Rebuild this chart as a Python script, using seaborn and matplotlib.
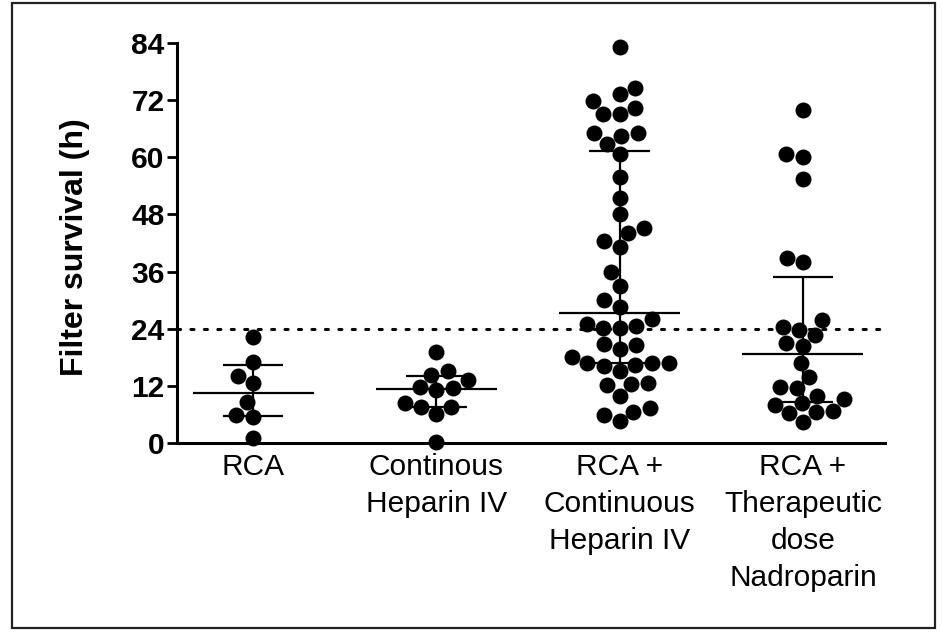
import numpy as np
import pandas as pd
import matplotlib
matplotlib.use('Agg')
import matplotlib.pyplot as plt
from matplotlib.patches import Rectangle
import seaborn as sns

# ── Data (filter survival in hours) ────────────────────────────────────────────
GROUPS = ['RCA', 'Continous\nHeparin IV', 'RCA +\nContinuous\nHeparin IV',
          'RCA +\nTherapeutic\ndose\nNadroparin']

rca = [22.3, 17.0, 14.1, 12.6, 8.6, 5.8, 5.5, 1.0]

heparin = [19.1, 15.1, 14.3, 13.2, 11.8, 11.6, 11.1, 8.4, 7.6, 7.6, 6.1, 0.2]

rca_heparin = [83.2, 74.6, 73.3, 71.8, 70.4, 69.1, 69.1, 65.1, 65.1, 64.5,
               62.8, 60.7, 55.9, 51.5, 48.1, 45.2, 44.1, 42.4, 41.2, 35.9,
               33.0, 30.0, 28.6, 26.0, 25.0, 24.6, 24.2, 24.2, 20.8, 20.6,
               19.7, 18.1, 16.8, 16.8, 16.8, 16.4, 16.2, 15.1, 12.6, 12.4,
               12.2, 9.9, 7.4, 6.5, 5.9, 4.6]

rca_nadroparin = [70.0, 60.7, 60.1, 55.5, 38.9, 38.0, 25.8, 24.4, 23.7, 22.7,
                  21.0, 20.4, 16.8, 13.9, 11.8, 11.6, 9.9, 9.2, 8.4, 8.0,
                  6.7, 6.5, 6.3, 4.4]

THRESHOLD = 24
Y_TICKS = [0, 12, 24, 36, 48, 60, 72, 84]

all_values = [rca, heparin, rca_heparin, rca_nadroparin]
df = pd.DataFrame({
    'group': np.repeat(GROUPS, [len(v) for v in all_values]),
    'hours': np.concatenate(all_values),
})

# ── Style ──────────────────────────────────────────────────────────────────────
sns.set_theme(style='ticks')
plt.rcParams['font.family'] = ['Liberation Sans', 'DejaVu Sans']
plt.rcParams['text.color'] = 'black'
plt.rcParams['axes.labelcolor'] = 'black'
plt.rcParams['xtick.color'] = 'black'
plt.rcParams['ytick.color'] = 'black'

fig = plt.figure(figsize=(9.42, 6.34), dpi=100)
ax = fig.add_axes([0.1879, 0.3013, 0.7516, 0.6309])

sns.swarmplot(data=df, x='group', y='hours', order=GROUPS, color='black',
              size=11.5, linewidth=0, ax=ax, clip_on=False, zorder=3)

# median with interquartile range
for i, vals in enumerate(all_values):
    q1, med, q3 = np.percentile(vals, [25, 50, 75], method='weibull')
    ax.hlines(med, i - 0.33, i + 0.33, color='black', lw=1.6, zorder=4)
    ax.hlines([q1, q3], i - 0.165, i + 0.165, color='black', lw=1.6, zorder=4)
    ax.vlines(i, q1, q3, color='black', lw=1.6, zorder=4)

ax.axhline(THRESHOLD, color='black', lw=2.2, ls=(0, (1, 3.4)),
           dash_capstyle='round', zorder=2)

ax.set_xlim(-0.415, 3.448)
ax.set_ylim(0, 84)
ax.set_yticks(Y_TICKS)
ax.set_xlabel('')
ax.set_ylabel('Filter survival (h)', fontsize=23, fontweight='bold')
ax.yaxis.set_label_coords(-0.123, 0.49)

ax.tick_params(axis='y', labelsize=21.5, length=7, width=2, pad=2,
               color='black', labelcolor='black')
ax.tick_params(axis='x', labelsize=21.5, length=0, pad=7, labelcolor='black')
for lab in ax.get_yticklabels():
    lab.set_fontweight('bold')
for lab in ax.get_xticklabels():
    lab.set_linespacing(1.42)

sns.despine(ax=ax)
for side in ['left', 'bottom']:
    ax.spines[side].set_linewidth(2.2)
    ax.spines[side].set_color('black')

# outer frame around the whole figure
fig.patches.append(Rectangle((12 / 942, 6 / 634), 923 / 942, 625 / 634,
                             transform=fig.transFigure, fill=False,
                             edgecolor='#222222', lw=1.6))

plt.savefig('out.png', dpi=100, facecolor='white')
plt.close()
